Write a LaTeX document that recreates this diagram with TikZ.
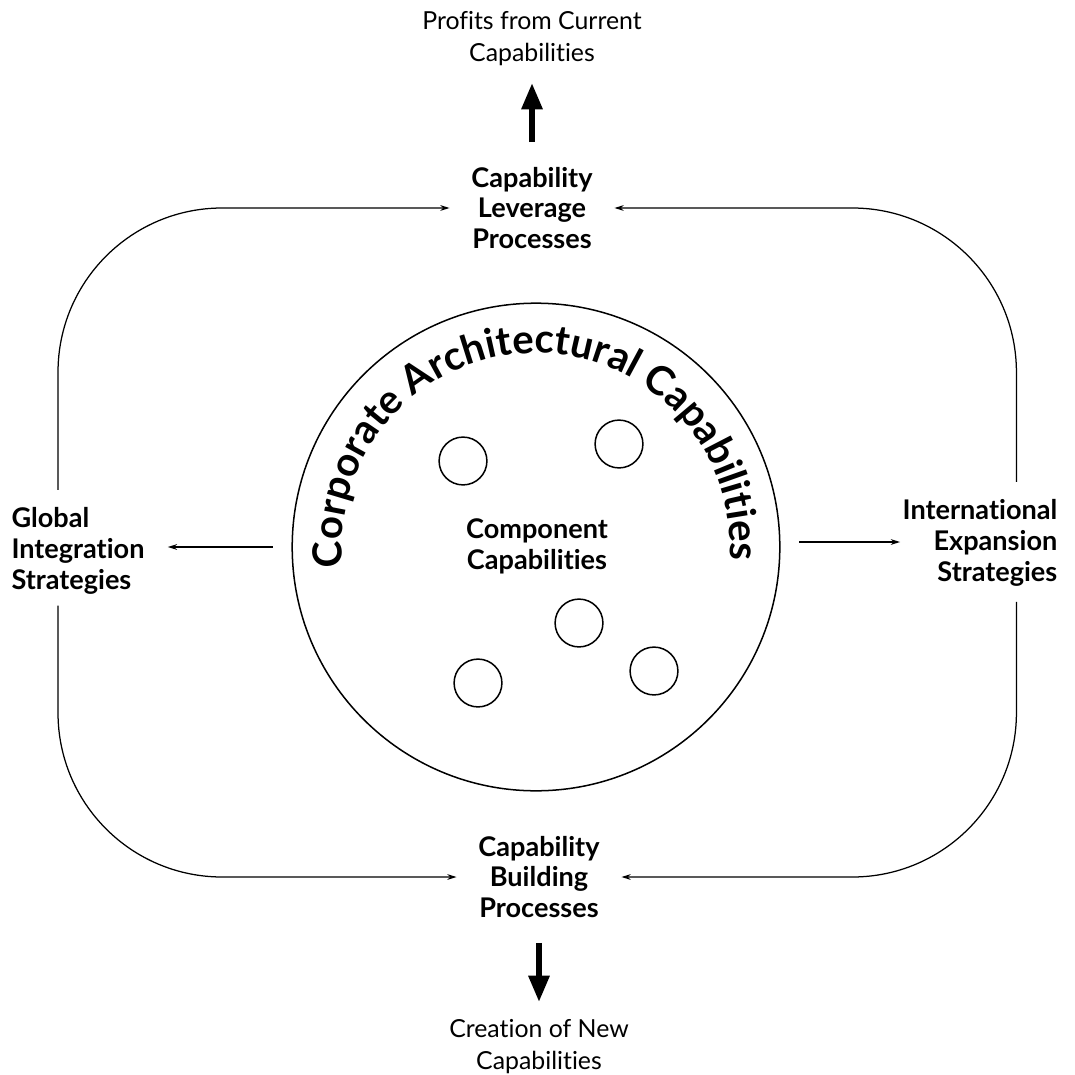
\documentclass[tikz,border=0pt]{standalone}
\usepackage{fontspec}
\setmainfont{Lato}[Ligatures=NoCommon]
\usetikzlibrary{arrows.meta, positioning, decorations.text}

\begin{document}
\begin{tikzpicture}[
    x=0.014cm, y=0.014cm,
    proc/.style={align=center, inner sep=0.1cm, font=\fontsize{10.8pt}{12.3pt}\selectfont\bfseries},
    outcome/.style={align=center, inner sep=0.1cm, font=\fontsize{9.9pt}{13pt}\selectfont},
    strat/.style={inner sep=0.1cm, font=\fontsize{10.8pt}{12.3pt}\selectfont\bfseries},
    comp/.style={circle, draw, line width=0.6pt, minimum size=0.67cm, inner sep=0pt},
    feedback/.style={-{Stealth[length=0.13cm, width=0.08cm]}, line width=0.5pt, rounded corners=2.3cm, shorten >=0.2cm},
    outward/.style={-{Stealth[length=0.13cm, width=0.08cm]}, line width=0.5pt, shorten <=0.26cm},
    bigarrow/.style={-{Triangle[length=0.37cm, width=0.28cm]}, line width=2.4pt, shorten <=0.24cm, shorten >=0.13cm}
]
    \useasboundingbox (0,0) rectangle (1075,1074);

    % Corporate capabilities
    \node[circle, draw, line width=0.6pt, minimum size=6.83cm, inner sep=0pt] (arch) at (536,527) {};
    \path[decorate, decoration={text along path, text align=center,
        text={|\fontsize{16pt}{19pt}\selectfont\bfseries|Corporate Architectural Capabilities}}]
        (arch.center) ++(190:194) arc[start angle=190, end angle=-8, radius=194];
    \node[proc] (component) at (537,528) {Component\\Capabilities};
    \node[comp] (c1) at (463,613) {};
    \node[comp] (c2) at (619,630) {};
    \node[comp] (c3) at (579,451) {};
    \node[comp] (c4) at (478,391) {};
    \node[comp] (c5) at (654,403) {};

    % Processes
    \node[proc] (leverage) at (532,866) {Capability\\Leverage\\Processes};
    \node[outcome, above=1.2cm of leverage] (profits) {Profits from Current\\Capabilities};
    \node[proc] (building) at (539,197) {Capability\\Building\\Processes};
    \node[outcome, below=1.2cm of building] (creation) {Creation of New\\Capabilities};

    % Strategies
    \node[strat, align=left] (global) at (78,523) {Global\\Integration\\Strategies};
    \node[strat, align=right] (intl) at (980,531) {International\\Expansion\\Strategies};

    % Arrows
    \draw[bigarrow] (leverage.north) -- (profits.south);
    \draw[bigarrow] (building.south) -- (creation.north);
    \draw[feedback] ([xshift=-0.28cm, yshift=0.14cm]global.north) |- (leverage.west);
    \draw[feedback] ([xshift=0.51cm, yshift=0.14cm]intl.north) |- (leverage.east);
    \draw[feedback] ([xshift=-0.28cm, yshift=-0.05cm]global.south) |- (building.west);
    \draw[feedback] ([xshift=0.51cm, yshift=-0.11cm]intl.south) |- (building.east);
    \draw[outward, shorten >=0.22cm] (arch.west) -- (arch.west -| global.east);
    \draw[outward, shorten >=-0.07cm] ([yshift=0.07cm]arch.east) -- ([yshift=0.07cm]arch.east -| intl.west);
\end{tikzpicture}
\end{document}
